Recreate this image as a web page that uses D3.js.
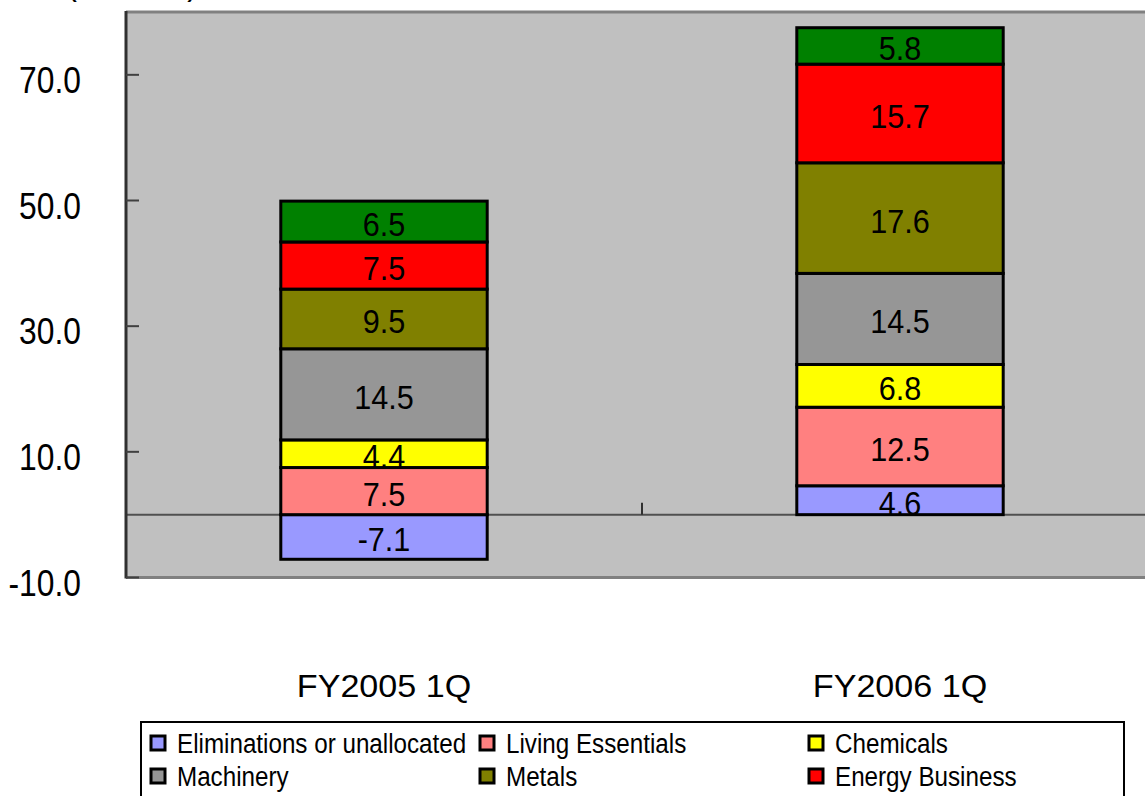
<!DOCTYPE html>
<html>
<head>
<meta charset="utf-8">
<script src="https://cdn.jsdelivr.net/npm/d3@7"></script>
<style>
  html, body { margin: 0; padding: 0; background: #ffffff; overflow: hidden; }
  svg { display: block; font-family: "Liberation Sans", Arial, sans-serif; }
</style>
</head>
<body>
<svg id="chart" width="1145" height="796"></svg>
<script>
// ---- data ----
const categories = ["FY2005 1Q", "FY2006 1Q"];
const seriesNames = ["Eliminations or unallocated", "Living Essentials", "Chemicals",
                     "Machinery", "Metals", "Energy Business", "New Business Initiative"];
const eliminations     = [-7.1, 4.6];
const livingEssentials = [7.5, 12.5];
const chemicals        = [4.4, 6.8];
const machinery        = [14.5, 14.5];
const metals           = [9.5, 17.6];
const energyBusiness   = [7.5, 15.7];
const newBusiness      = [6.5, 5.8];
const seriesColors = ["#9999ff", "#ff8080", "#ffff00", "#969696", "#808000", "#ff0000", "#008000"];
const yTicks = [-10, 10, 30, 50, 70];
const yDomain = [-10, 80];
const unitLabel = "(¥ billion)";

const seriesValues = [eliminations, livingEssentials, chemicals, machinery, metals, energyBusiness, newBusiness];
const table = categories.map((c, i) => {
  const row = { category: c };
  seriesNames.forEach((s, j) => { row[s] = seriesValues[j][i]; });
  return row;
});

// ---- layout ----
const svg = d3.select("#chart");
const plot = { left: 126, top: 12, right: 1158, bottom: 577.5 };

const x = d3.scaleBand().domain(categories).range([plot.left, plot.right]).padding(0);
const y = d3.scaleLinear().domain(yDomain).range([plot.bottom, plot.top]);

// background
svg.append("rect")
  .attr("x", plot.left).attr("y", plot.top)
  .attr("width", plot.right - plot.left).attr("height", plot.bottom - plot.top)
  .attr("fill", "#c0c0c0");

// frame top & bottom
svg.append("line").attr("x1", plot.left).attr("x2", plot.right)
  .attr("y1", plot.top).attr("y2", plot.top)
  .attr("stroke", "#808080").attr("stroke-width", 3);
svg.append("line").attr("x1", plot.left).attr("x2", plot.right)
  .attr("y1", plot.bottom).attr("y2", plot.bottom)
  .attr("stroke", "#808080").attr("stroke-width", 3);

// zero (category) axis line
svg.append("line").attr("x1", plot.left).attr("x2", plot.right)
  .attr("y1", y(0)).attr("y2", y(0))
  .attr("stroke", "#505050").attr("stroke-width", 2);
// category boundary ticks (upward)
categories.forEach((c, i) => {
  if (i === 0) return;
  svg.append("line").attr("x1", x(c)).attr("x2", x(c))
    .attr("y1", y(0) - 12).attr("y2", y(0))
    .attr("stroke", "#303030").attr("stroke-width", 2);
});

// y axis line and ticks
svg.append("line").attr("x1", plot.left).attr("x2", plot.left)
  .attr("y1", plot.top - 1).attr("y2", plot.bottom + 1)
  .attr("stroke", "#303030").attr("stroke-width", 3);
svg.selectAll(".ytick").data(yTicks).enter().append("line")
  .attr("x1", plot.left).attr("x2", plot.left + 13)
  .attr("y1", d => y(d)).attr("y2", d => y(d))
  .attr("stroke", "#404040").attr("stroke-width", 2);

// y tick labels (condensed)
svg.selectAll(".ylab").data(yTicks).enter().append("text")
  .attr("transform", d => `translate(81,${y(d) + 18}) scale(0.86,1)`)
  .attr("text-anchor", "end")
  .attr("font-size", 37)
  .attr("fill", "#000")
  .text(d => d.toFixed(1));

// unit label (mostly cut off at top)
svg.append("text")
  .attr("transform", "translate(66,-6) scale(0.88,1)")
  .attr("font-size", 37).attr("fill", "#000")
  .text(unitLabel);

// stacked bars
const stack = d3.stack().keys(seriesNames).offset(d3.stackOffsetDiverging);
const stacked = stack(table);
const bw = x.bandwidth();

stacked.forEach((layer, j) => {
  const g = svg.append("g");
  layer.forEach(seg => {
    const cat = seg.data.category;
    const y0 = y(seg[0]), y1 = y(seg[1]);
    const top = Math.min(y0, y1), h = Math.abs(y1 - y0);
    g.append("rect")
      .attr("x", x(cat) + bw * 0.3).attr("width", bw * 0.4)
      .attr("y", top).attr("height", h)
      .attr("fill", seriesColors[j])
      .attr("stroke", "#000").attr("stroke-width", 3);
  });
});
// labels on top
stacked.forEach((layer, j) => {
  layer.forEach(seg => {
    const cat = seg.data.category;
    const cy = (y(seg[0]) + y(seg[1])) / 2;
    const v = seg.data[layer.key];
    svg.append("text")
      .attr("transform", `translate(${x(cat) + bw / 2},${cy + 14.5}) scale(0.9,1)`)
      .attr("text-anchor", "middle")
      .attr("font-size", 34).attr("fill", "#000")
      .text(v.toFixed(1));
  });
});

// category labels
svg.selectAll(".xlab").data(categories).enter().append("text")
  .attr("transform", d => `translate(${x(d) + bw / 2},697) scale(1.1,1)`)
  .attr("text-anchor", "middle")
  .attr("font-size", 31).attr("fill", "#000")
  .text(d => d);

// legend
const legend = { left: 141, top: 722, right: 1124, bottom: 830 };
svg.append("rect")
  .attr("x", legend.left).attr("y", legend.top)
  .attr("width", legend.right - legend.left).attr("height", legend.bottom - legend.top)
  .attr("fill", "#fff").attr("stroke", "#000").attr("stroke-width", 2);
seriesNames.forEach((s, i) => {
  const col = i % 3, row = Math.floor(i / 3);
  const sx = 151 + col * 329, sy = 736 + row * 33;
  svg.append("rect")
    .attr("x", sx).attr("y", sy).attr("width", 14).attr("height", 14)
    .attr("fill", seriesColors[i]).attr("stroke", "#000").attr("stroke-width", 3);
  svg.append("text")
    .attr("transform", `translate(${sx + 26},${sy + 17}) scale(0.865,1)`)
    .attr("font-size", 28).attr("fill", "#000")
    .text(s);
});
</script>
</body>
</html>
